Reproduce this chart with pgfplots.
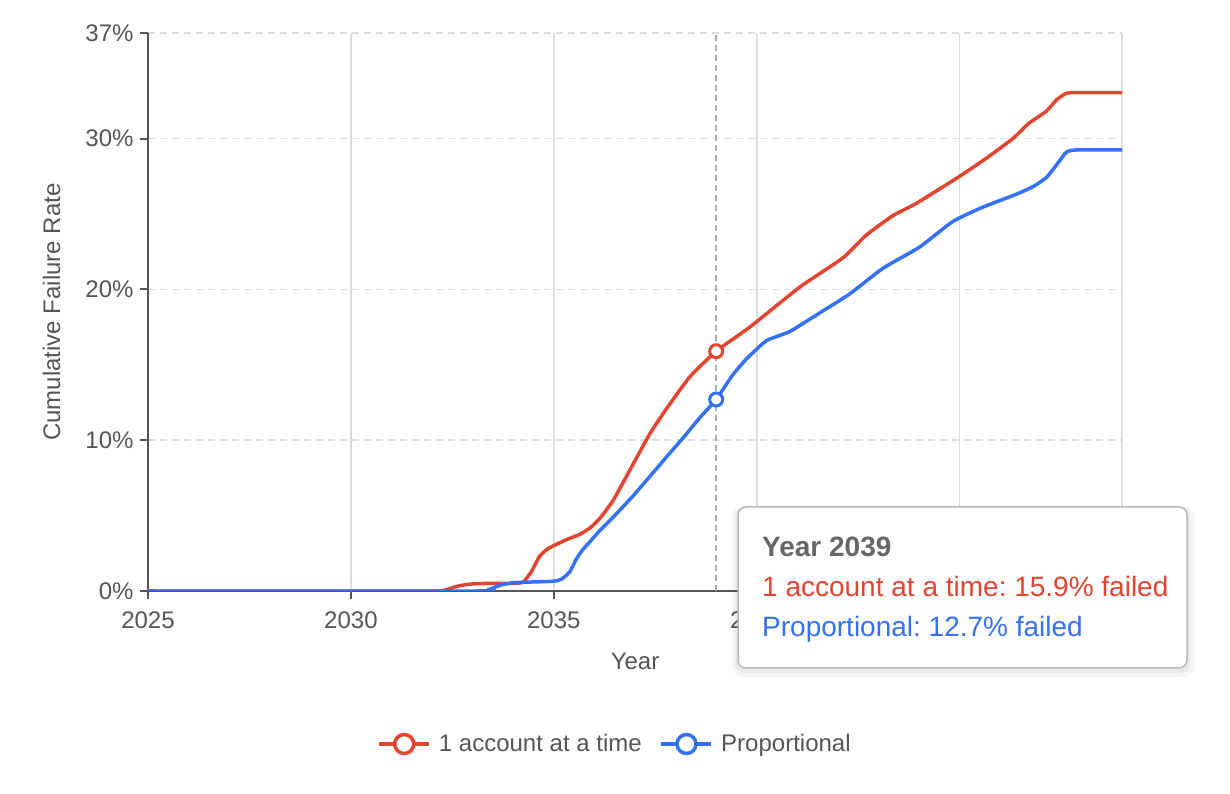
\documentclass[border=0pt]{standalone}
\usepackage{pgfplots}
\pgfplotsset{compat=1.18}
\usepackage{fontspec}
\setmainfont{Liberation Sans}
\definecolor{cred}{HTML}{E2452F}
\definecolor{cblue}{HTML}{3471F4}
\definecolor{axgray}{HTML}{555555}
\definecolor{gridgray}{HTML}{DDDDDD}
\definecolor{txtgray}{HTML}{555555}
\definecolor{ttgray}{HTML}{666666}
\frenchspacing
\begin{document}
\begin{tikzpicture}
\path[use as bounding box] (0pt,0pt) rectangle (1230pt,794pt);
\begin{axis}[
  at={(148pt,203pt)}, anchor=south west,
  scale only axis, width=974pt, height=558pt,
  xmin=2025, xmax=2049, ymin=0, ymax=37,
  axis lines=left,
  axis line style={-, draw=axgray, line width=2pt},
  xtick={2025,2030,2035,2040,2045},
  xticklabels={2025,2030,2035,2040,{}},
  ytick={0,10,20,30,37},
  extra x ticks={2049}, extra x tick labels={},
  extra x tick style={xmajorgrids=true, major tick length=0pt},
  xmajorgrids, ymajorgrids,
  x grid style={draw=gridgray, line width=1.5pt},
  y grid style={draw=gridgray, line width=1.5pt, dash pattern=on 7pt off 5pt},
  tick align=outside, major tick length=8pt,
  tick style={draw=axgray, line width=2pt},
  /pgf/number format/assume math mode=true,
  /pgf/number format/1000 sep={},
  yticklabel={\pgfmathprintnumber{\tick}\%},
  ticklabel style={font=\fontsize{24}{28}\selectfont, text=txtgray},
  xticklabel style={yshift=-9pt},
  yticklabel style={xshift=-3pt},
  xlabel={Year}, ylabel={Cumulative Failure Rate},
  xlabel style={at={(axis description cs:0.5,0)}, anchor=base, yshift=-79pt, font=\fontsize{24}{28}\selectfont, text=txtgray},
  ylabel style={at={(axis description cs:-0.0903,0.5)}, anchor=base, rotate=0, font=\fontsize{24}{28}\selectfont, text=txtgray},
  legend style={at={(0.4795,-0.2742)}, anchor=center, draw=none, fill=none,
    legend columns=2, font=\fontsize{24}{28}\selectfont, text=txtgray,
    /tikz/every odd column/.append style={column sep=6pt},
    /tikz/every even column/.append style={column sep=16pt}},
  legend image code/.code={\draw[mark repeat=2,mark phase=2,#1] plot coordinates {(0pt,0pt) (25pt,0pt) (50pt,0pt)};},
]
% hover line
\addplot[forget plot, draw=gray!65, line width=1.5pt, dash pattern=on 6pt off 4pt] coordinates {(2039,0) (2039,37)};
% 1 account at a time
\addplot[forget plot, cred, line width=3.5pt, smooth, tension=0.3] coordinates {
(2025,0) (2032.0,0) (2032.3,0.05) (2032.6,0.3) (2032.9,0.45) (2033.3,0.5) (2034.0,0.5)
(2034.25,0.6) (2034.45,1.3) (2034.65,2.3) (2034.85,2.8) (2035.07,3.1) (2035.35,3.45)
(2035.64,3.75) (2035.9,4.2) (2036.13,4.8) (2036.46,6.0) (2036.87,8.0) (2037.36,10.4)
(2037.78,12.1) (2038.35,14.2) (2039.0,15.9) (2039.83,17.5) (2041.06,20.15) (2042.13,22.1)
(2042.7,23.6) (2043.36,24.9) (2043.93,25.7) (2045.0,27.5) (2045.66,28.7) (2046.31,30.0)
(2046.7,31.0) (2047.13,31.8) (2047.4,32.6) (2047.63,33.0) (2047.9,33.05) (2049,33.05)
};
% Proportional
\addplot[forget plot, cblue, line width=3.5pt, smooth, tension=0.3] coordinates {
(2025,0) (2033.1,0) (2033.4,0.1) (2033.7,0.4) (2034.0,0.55) (2034.5,0.6) (2035.0,0.65)
(2035.2,0.8) (2035.4,1.3) (2035.55,2.1) (2035.7,2.7) (2035.9,3.3) (2036.13,4.0)
(2036.5,5.0) (2036.95,6.3) (2037.4,7.7) (2037.78,8.9) (2038.2,10.2) (2038.6,11.5)
(2039.0,12.7) (2039.4,14.3) (2039.75,15.4) (2040.24,16.6) (2040.81,17.2) (2041.47,18.3)
(2042.29,19.7) (2043.11,21.4) (2044.01,22.8) (2044.83,24.5) (2045.57,25.45) (2046.39,26.3)
(2046.8,26.8) (2047.13,27.4) (2047.4,28.3) (2047.63,29.1) (2047.9,29.25) (2049,29.25)
};
% hover markers
\addplot[forget plot, only marks, mark=*, mark size=6.5pt, mark options={fill=white, draw=cred, line width=3pt}] coordinates {(2039,15.9)};
\addplot[forget plot, only marks, mark=*, mark size=6.5pt, mark options={fill=white, draw=cblue, line width=3pt}] coordinates {(2039,12.7)};
% legend
\addlegendimage{cred, line width=3.5pt, mark=*, mark size=9.5pt, mark options={fill=white, draw=cred, line width=3.5pt}}
\addlegendentry{1 account at a time}
\addlegendimage{cblue, line width=3.5pt, mark=*, mark size=9.5pt, mark options={fill=white, draw=cblue, line width=3.5pt}}
\addlegendentry{Proportional}
\end{axis}
% tooltip
\fill[black, opacity=0.04, rounded corners=11pt] (732pt,117pt) rectangle (1194pt,288pt);
\fill[black, opacity=0.05, rounded corners=9pt] (735pt,121pt) rectangle (1190pt,287pt);
\filldraw[fill=white, draw=gray!55, line width=1.5pt, rounded corners=8pt] (738pt,126pt) rectangle (1187pt,287pt);
\node[anchor=base west, inner sep=0pt, font=\fontsize{28}{32}\selectfont\bfseries, text=ttgray] at (762pt,237pt) {Year 2039};
\node[anchor=base west, inner sep=0pt, font=\fontsize{28}{32}\selectfont, text=cred] at (762pt,197pt) {1 account at a time: 15.9\% failed};
\node[anchor=base west, inner sep=0pt, font=\fontsize{28}{32}\selectfont, text=cblue] at (762pt,157pt) {Proportional: 12.7\% failed};
\end{tikzpicture}
\end{document}
